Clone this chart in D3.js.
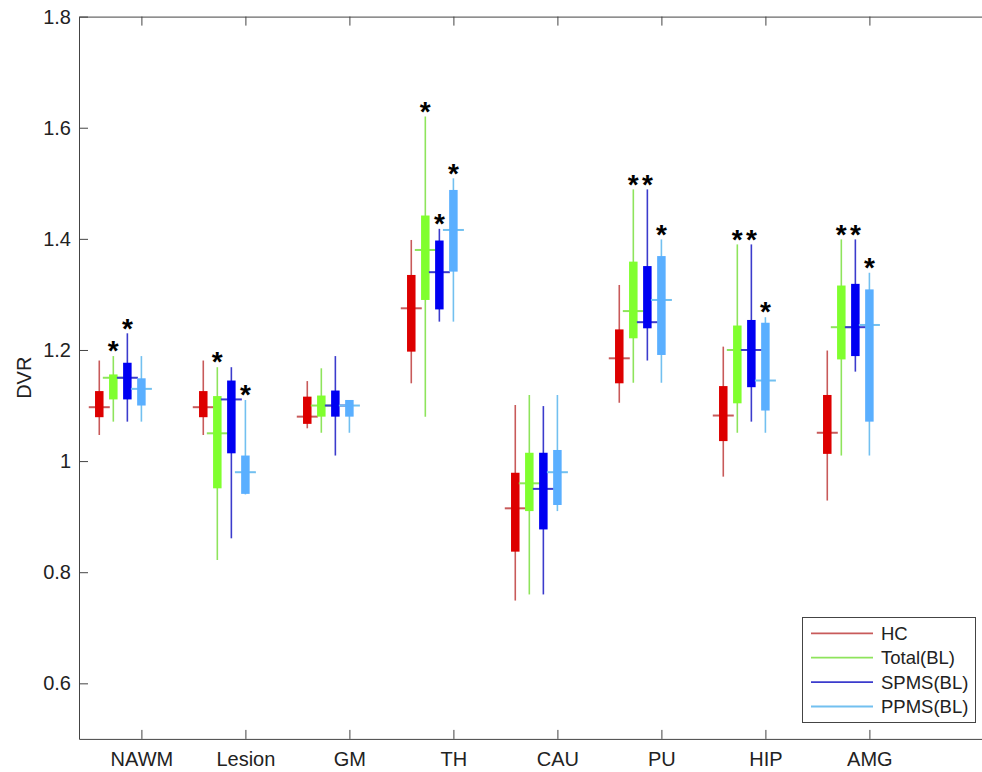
<!DOCTYPE html>
<html>
<head>
<meta charset="UTF-8">
<title>DVR box plot</title>
<script src="https://cdn.jsdelivr.net/npm/d3@7"></script>
<style>
body{margin:0;background:#fff;font-family:"Liberation Sans",Arial,sans-serif}
.axis path,.axis line{stroke:#444}
.axis text{font-size:20px;fill:#222;font-family:"Liberation Sans",Arial,sans-serif}
</style>
</head>
<body>
<svg id="chart" width="982" height="772"></svg>
<script>
// ---- data: [whiskerLow, q1, median, q3, whiskerHigh] per region ----
var regions = ["NAWM","Lesion","GM","TH","CAU","PU","HIP","AMG"]
var seriesNames = ["HC","Total(BL)","SPMS(BL)","PPMS(BL)"]

var hcBoxes = [
  [1.047,1.079,1.097,1.126,1.181],
  [1.047,1.079,1.097,1.126,1.181],
  [1.059,1.067,1.080,1.116,1.144],
  [1.140,1.197,1.275,1.335,1.398],
  [0.749,0.837,0.915,0.979,1.101],
  [1.105,1.140,1.185,1.237,1.317],
  [0.972,1.036,1.082,1.135,1.206],
  [0.929,1.013,1.051,1.119,1.199]]
var totalBoxes = [
  [1.071,1.111,1.150,1.156,1.189],
  [0.822,0.951,1.050,1.117,1.169],
  [1.051,1.080,1.100,1.118,1.167],
  [1.080,1.290,1.380,1.442,1.620],
  [0.760,0.910,0.960,1.015,1.119],
  [1.141,1.221,1.270,1.359,1.489],
  [1.051,1.104,1.200,1.244,1.390],
  [1.010,1.183,1.241,1.316,1.399]]
var spmsBoxes = [
  [1.071,1.111,1.150,1.177,1.230],
  [0.861,1.014,1.111,1.145,1.169],
  [1.010,1.080,1.100,1.127,1.189],
  [1.251,1.273,1.340,1.397,1.418],
  [0.760,0.877,0.950,1.015,1.099],
  [1.181,1.239,1.250,1.351,1.489],
  [1.071,1.133,1.200,1.254,1.390],
  [1.161,1.189,1.241,1.319,1.399]]
var ppmsBoxes = [
  [1.071,1.100,1.130,1.149,1.189],
  [0.940,0.941,0.980,1.010,1.110],
  [1.051,1.080,1.100,1.110,1.110],
  [1.251,1.341,1.416,1.488,1.509],
  [0.910,0.921,0.980,1.020,1.119],
  [1.141,1.191,1.290,1.369,1.399],
  [1.051,1.091,1.145,1.249,1.259],
  [1.010,1.071,1.245,1.309,1.339]]

// significance marks (1 = asterisk above the whisker)
var hcStars    = [0,0,0,0,0,0,0,0]
var totalStars = [1,1,0,1,0,1,1,1]
var spmsStars  = [1,0,0,1,0,1,1,1]
var ppmsStars  = [0,1,0,1,0,1,1,1]

var yTicks = [0.6,0.8,1,1.2,1.4,1.6,1.8]

// ---- styling ----
var boxColors = ["#dd0000","#80ff2e","#0000f2","#5aafff"]
var lineColors = ["#c85a5a","#8ee45c","#3b3bcc","#72c0f0"]

var allBoxes = [hcBoxes,totalBoxes,spmsBoxes,ppmsBoxes]
var allStars = [hcStars,totalStars,spmsStars,ppmsStars]

var svg = d3.select("#chart")
var plotLeft = 79, plotTop = 16.6, plotBottom = 738.9

var x = d3.scaleLinear().domain([0.4,9.4]).range([plotLeft,plotLeft+9*104])
var y = d3.scaleLinear().domain([0.5,1.8]).range([plotBottom,plotTop])

// axes (ticks point inward like the MATLAB box)
svg.append("g").attr("class","axis")
  .attr("transform","translate(0,"+plotBottom+")")
  .call(d3.axisBottom(x).tickValues(d3.range(1,regions.length+1))
    .tickFormat(function(d){return regions[d-1]})
    .tickSizeInner(-9).tickSizeOuter(0).tickPadding(13))

svg.append("g").attr("class","axis")
  .attr("transform","translate(0,"+plotTop+")")
  .call(d3.axisTop(x).tickValues(d3.range(1,regions.length+1))
    .tickFormat("").tickSizeInner(-9).tickSizeOuter(0))

svg.append("g").attr("class","axis")
  .attr("transform","translate("+plotLeft+",0)")
  .call(d3.axisLeft(y).tickValues(yTicks)
    .tickFormat(function(d){return String(+d.toFixed(1))})
    .tickSizeInner(-9).tickSizeOuter(0).tickPadding(8))

svg.append("text")
  .attr("transform","translate(31,"+y(1.15)+")rotate(-90)")
  .attr("text-anchor","middle")
  .attr("font-size","20px")
  .attr("fill","#222")
  .text("DVR")

// ---- boxes ----
var boxW = 8.5, medW = 21
allBoxes.forEach(function(boxes,s){
  var g = svg.append("g")
  boxes.forEach(function(b,i){
    var cx = x(i+1+(s-3)*0.135)
    g.append("line")
      .attr("x1",cx).attr("x2",cx)
      .attr("y1",y(b[0])).attr("y2",y(b[4]))
      .attr("stroke",lineColors[s]).attr("stroke-width",1.6)
    g.append("line")
      .attr("x1",cx-medW/2).attr("x2",cx+medW/2)
      .attr("y1",y(b[2])).attr("y2",y(b[2]))
      .attr("stroke",lineColors[s]).attr("stroke-width",2)
    g.append("rect")
      .attr("x",cx-boxW/2).attr("width",boxW)
      .attr("y",y(b[3])).attr("height",Math.max(1,y(b[1])-y(b[3])))
      .attr("fill",boxColors[s])
    if(allStars[s][i])
    {
      g.append("text")
        .attr("x",cx).attr("y",y(b[4])-12)
        .attr("dy","0.58em")
        .attr("text-anchor","middle")
        .attr("font-size","28px")
        .attr("font-weight","bold")
        .attr("fill","#000")
        .text("*")
    }
  })
})

// ---- legend ----
var leg = svg.append("g")
leg.append("rect")
  .attr("x",802.5).attr("y",617.5).attr("width",173).attr("height",105)
  .attr("fill","#fff").attr("stroke","#444").attr("stroke-width",1)
seriesNames.forEach(function(n,s){
  var ly = 633.3+s*24.4
  leg.append("line")
    .attr("x1",811).attr("x2",873).attr("y1",ly).attr("y2",ly)
    .attr("stroke",lineColors[s]).attr("stroke-width",1.8)
  leg.append("text")
    .attr("x",881).attr("y",ly).attr("dy","0.35em")
    .attr("font-size","18.5px").attr("fill","#222")
    .text(n)
})
</script>
</body>
</html>
